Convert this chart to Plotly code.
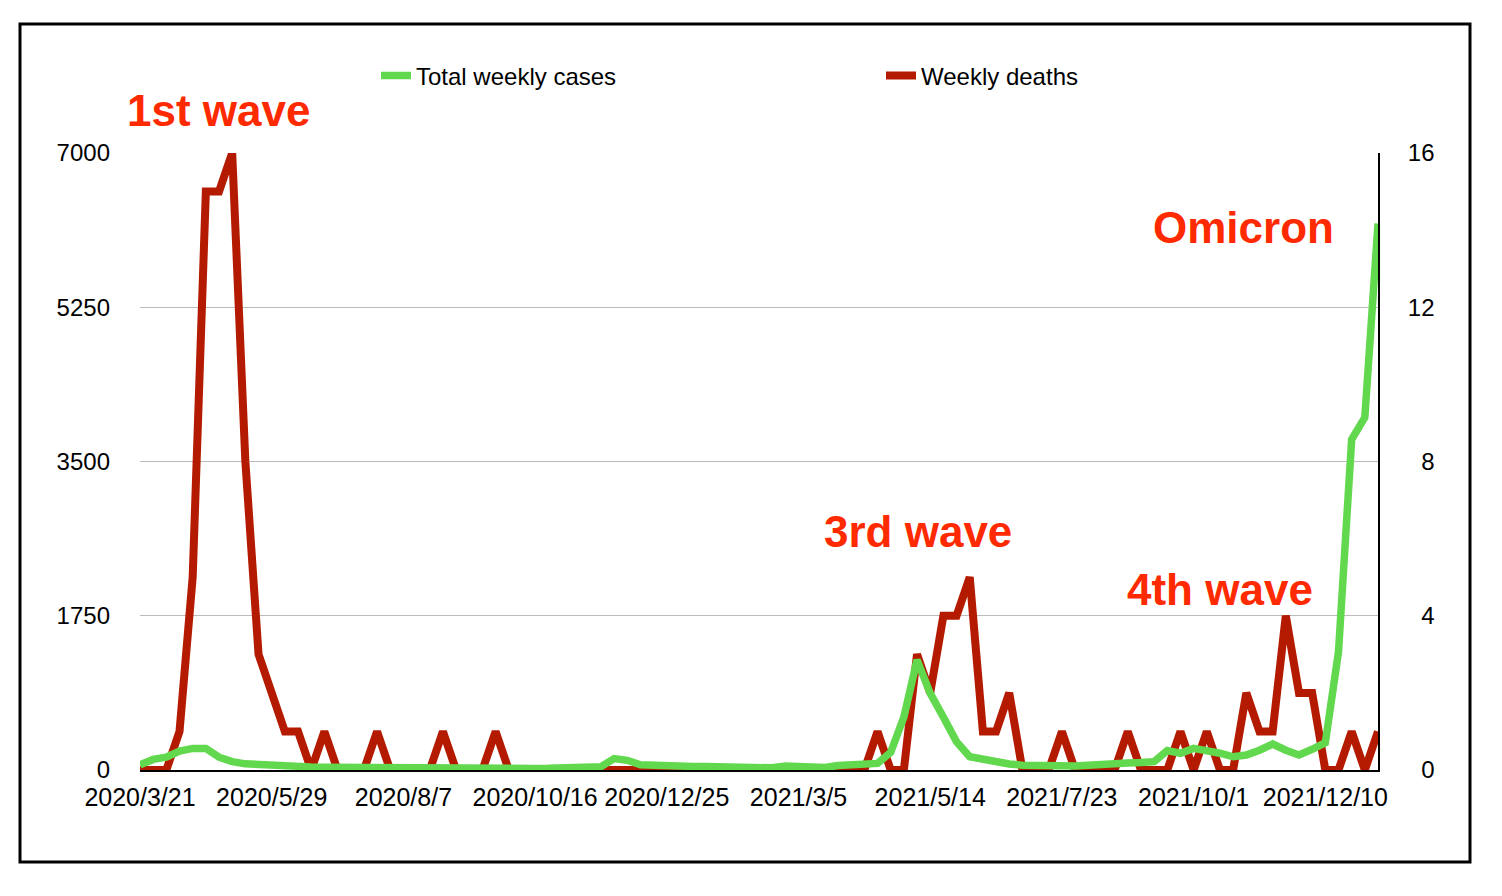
import plotly.graph_objects as go
import pandas as pd

# ---- data ----
first_date = "2020/3/21"
weekly_start = "2020-03-27"
n_points = 95

weekly_cases = [
    60, 120, 145, 215, 245, 245, 145, 95, 70, 60,
    50, 45, 40, 35, 32, 30, 28, 27, 25, 24,
    23, 22, 21, 20, 20, 19, 19, 18, 18, 18,
    18, 19, 20, 22, 25, 38, 130, 110, 60, 50,
    45, 42, 40, 40, 35, 28, 22, 20, 25, 45,
    38, 30, 28, 50, 52, 70, 75, 200, 600, 1250,
    870, 600, 320, 150, 120, 95, 68, 55, 48, 45,
    42, 45, 55, 68, 75, 80, 85, 95, 220, 190,
    245, 225, 190, 150, 170, 225, 295, 225, 170, 235,
    310, 1340, 3750, 4000, 6200,
]

weekly_deaths = [
    0, 0, 0, 1, 5, 15, 15, 16, 8, 3,
    2, 1, 1, 0, 1, 0, 0, 0, 1, 0,
    0, 0, 0, 1, 0, 0, 0, 1, 0, 0,
    0, 0, 0, 0, 0, 0, 0, 0, 0, 0,
    0, 0, 0, 0, 0, 0, 0, 0, 0, 0,
    0, 0, 0, 0, 0, 0, 1, 0, 0, 3,
    2, 4, 4, 5, 1, 1, 2, 0, 0, 0,
    1, 0, 0, 0, 0, 1, 0, 0, 0, 1,
    0, 1, 0, 0, 2, 1, 1, 4, 2, 2,
    0, 0, 1, 0, 1,
]

x_tick_labels = ["2020/3/21", "2020/5/29", "2020/8/7", "2020/10/16", "2020/12/25",
                 "2021/3/5", "2021/5/14", "2021/7/23", "2021/10/1", "2021/12/10"]
cases_ticks = [0, 1750, 3500, 5250, 7000]
deaths_ticks = [0, 4, 8, 12, 16]

labels = ["Omicron", "4th wave", "3rd wave", "1st wave"]

# ---- build ----
rest = pd.date_range(weekly_start, periods=n_points - 1, freq="7D")
dates = [first_date] + [f"{d.year}/{d.month}/{d.day}" for d in rest]

OFF = 8  # page body margin
PLOT_X0, PLOT_X1, PLOT_Y0, PLOT_Y1 = 140, 1378, 153, 770  # page pixels
L, T = PLOT_X0 - OFF, PLOT_Y0 - OFF
PW, PH = PLOT_X1 - PLOT_X0, PLOT_Y1 - PLOT_Y0
W, H = 1502 - OFF, 896 - OFF
R, B = W - L - PW, H - T - PH


def px(x):
    return (x - PLOT_X0) / PW


def py(y):
    return (PLOT_Y1 - y) / PH


FONT = "Liberation Sans, Arial, Helvetica, sans-serif"
GREEN = "#62D84E"
DRED = "#B41A00"
TRED = "#FF2A00"
FS = "\u2007"

fig = go.Figure()
fig.add_trace(go.Scatter(
    x=dates, y=weekly_deaths, name="Weekly deaths", mode="lines",
    line=dict(color=DRED, width=8), yaxis="y", legendrank=2,
))
fig.add_trace(go.Scatter(
    x=dates, y=weekly_cases, name="Total weekly cases", mode="lines",
    line=dict(color=GREEN, width=7.5), yaxis="y2", legendrank=1,
))

fig.update_layout(
    width=W, height=H,
    margin=dict(l=L, r=R, t=T, b=B, pad=0),
    paper_bgcolor="white", plot_bgcolor="white",
    font=dict(family=FONT, color="black", size=24),
    showlegend=True,
    legend=dict(
        orientation="h", x=px(376), xanchor="left", y=py(76), yanchor="middle",
        font=dict(size=24, family=FONT), entrywidth=460, entrywidthmode="pixels",
        bgcolor="rgba(0,0,0,0)", borderwidth=0,
    ),
    xaxis=dict(
        type="category", range=[0, n_points - 1],
        tickmode="array", tickvals=x_tick_labels, ticktext=x_tick_labels,
        tickfont=dict(size=25, family=FONT), ticks="",
        showgrid=False, zeroline=False,
        showline=True, linecolor="black", linewidth=2,
        ticklabelstandoff=4,
    ),
    yaxis=dict(
        side="right", range=[0, 16], tickmode="array", tickvals=deaths_ticks,
        ticktext=[(FS if v < 10 else "") + str(v) for v in deaths_ticks],
        tickfont=dict(size=24, family=FONT), ticks="",
        showgrid=True, gridcolor="#BBBBBB", gridwidth=1, zeroline=False,
        showline=True, linecolor="black", linewidth=2,
        ticklabelstandoff=23,
    ),
    yaxis2=dict(
        side="left", overlaying="y", range=[0, 7000], tickmode="array",
        tickvals=cases_ticks, ticktext=[str(v) for v in cases_ticks],
        tickfont=dict(size=24, family=FONT), ticks="",
        showgrid=False, zeroline=False, showline=False,
        ticklabelstandoff=29,
    ),
    shapes=[dict(
        type="rect", xref="paper", yref="paper",
        x0=px(20), x1=px(1470), y0=py(862), y1=py(24),
        line=dict(color="black", width=3), fillcolor="rgba(0,0,0,0)", layer="below",
    )],
)

ann_pos = {"1st wave": (218, 111), "3rd wave": (918, 531),
           "4th wave": (1220, 589), "Omicron": (1243, 227)}
for t in labels:
    cx, cy = ann_pos[t]
    fig.add_annotation(
        text=t, xref="paper", yref="paper", x=px(cx), y=py(cy),
        xanchor="center", yanchor="middle", showarrow=False,
        font=dict(size=44, family=FONT, color=TRED, weight="bold"),
    )

fig.write_html("out.html")
